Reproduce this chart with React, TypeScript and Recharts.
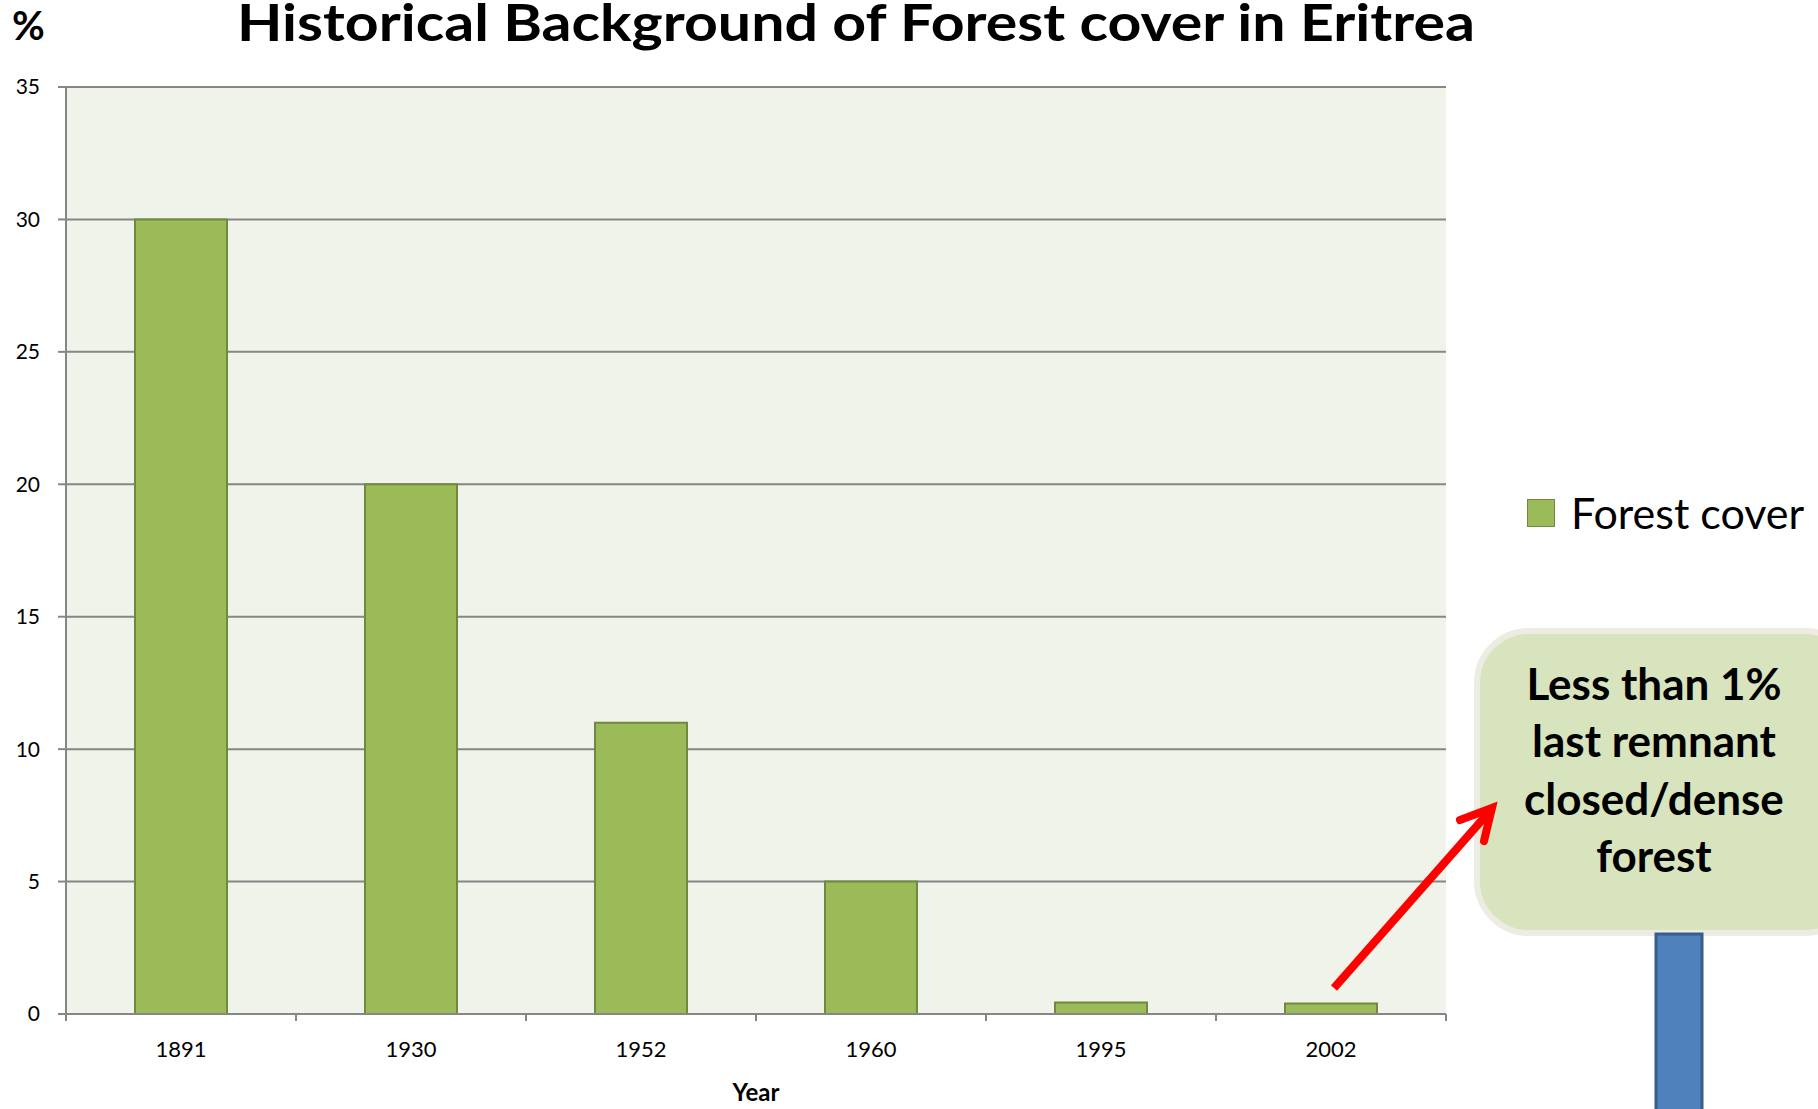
import { Bar, BarChart, XAxis, YAxis, CartesianGrid, Legend, Customized } from 'recharts';

const years = ['1891', '1930', '1952', '1960', '1995', '2002'];
const forestCover = [30, 20, 11, 5, 0.43, 0.4];
const yTicks = [0, 5, 10, 15, 20, 25, 30, 35];

const chartData = years.map((year, i) => ({ year, 'Forest cover': forestCover[i] }));

const FONT = 'Lato, "Open Sans", sans-serif';

// Excel-style category axis: tick marks sit between categories
function YearTick(props: any) {
  const { x, y, payload, index, visibleTicksCount } = props;
  const half = payload && payload.offset ? payload.offset : 115;
  const last = index === visibleTicksCount - 1;
  return (
    <g>
      <line x1={x - half} y1={y} x2={x - half} y2={y + 7} stroke="#868686" strokeWidth={2} />
      {last && <line x1={x + half} y1={y} x2={x + half} y2={y + 7} stroke="#868686" strokeWidth={2} />}
      <text x={x} y={y + 43} textAnchor="middle" fontSize={22} fontFamily={FONT} fill="#000">
        {payload.value}
      </text>
    </g>
  );
}

function LegendBox() {
  return (
    <div style={{ display: 'flex', alignItems: 'center', fontFamily: FONT, fontSize: 43, color: '#000', lineHeight: '44px' }}>
      <span style={{ display: 'inline-block', width: 26, height: 26, background: '#9bbb59', border: '1px solid #71893f', marginRight: 16 }} />
      <span>Forest cover</span>
    </div>
  );
}

function Annotations() {
  return (
    <g>
      <text x={856} y={41} textAnchor="middle" fontSize={52} fontWeight="bold" fontFamily={FONT} fill="#000"
        textLength={1238} lengthAdjust="spacingAndGlyphs">
        Historical Background of Forest cover in Eritrea
      </text>
      <text x={12} y={40} fontSize={40} fontWeight="bold" fontFamily={FONT} fill="#000">%</text>

      <rect x={1477} y={631} width={380} height={302} rx={52} ry={52} fill="#d7e4bd" stroke="#ecece2" strokeWidth={6} />
      <g fontSize={44} fontWeight="bold" fontFamily={FONT} fill="#000" textAnchor="middle">
        <text x={1654} y={700}>Less than 1%</text>
        <text x={1654} y={757}>last remnant</text>
        <text x={1654} y={815}>closed/dense</text>
        <text x={1654} y={872}>forest</text>
      </g>
      <rect x={1656} y={934} width={46} height={190} fill="#4f81bd" stroke="#385d8a" strokeWidth={3} />

      <line x1={1334} y1={988} x2={1490} y2={811} stroke="#ff0000" strokeWidth={8} />
      <polyline points="1460,820 1492,808 1484,841" fill="none" stroke="#ff0000" strokeWidth={8}
        strokeLinejoin="miter" strokeLinecap="round" />
    </g>
  );
}

export default function App() {
  return (
    <div style={{ position: 'absolute', left: 0, top: 0, background: '#fff' }}>
      <BarChart width={1818} height={1109} data={chartData} barCategoryGap="30%"
        margin={{ top: 87, right: 372, bottom: 0, left: 0 }}>
        <CartesianGrid vertical={false} stroke="#868686" strokeWidth={2} fill="#eff3ea" />
        <XAxis dataKey="year" height={95} tickLine={false} tickSize={0} tickMargin={0}
          axisLine={{ stroke: '#868686', strokeWidth: 2 }} tick={<YearTick />} interval={0}
          label={{ value: 'Year', position: 'insideBottom', offset: 8, fontSize: 24, fontWeight: 'bold', fontFamily: FONT, fill: '#000' }} />
        <YAxis width={66} domain={[0, 35]} ticks={yTicks} tickSize={8} tickMargin={18}
          axisLine={{ stroke: '#868686', strokeWidth: 2 }} tickLine={{ stroke: '#868686', strokeWidth: 2 }}
          tick={{ fontSize: 21, fontFamily: FONT, fill: '#000' }} />
        <Legend layout="horizontal" verticalAlign="middle" align="center" content={<LegendBox />}
          wrapperStyle={{ left: 1527, top: 491, width: 291, height: 44 }} />
        <Bar dataKey="Forest cover" fill="#9bbb59" stroke="#71893f" strokeWidth={2} isAnimationActive={false} />
        <Customized component={Annotations} />
      </BarChart>
    </div>
  );
}
